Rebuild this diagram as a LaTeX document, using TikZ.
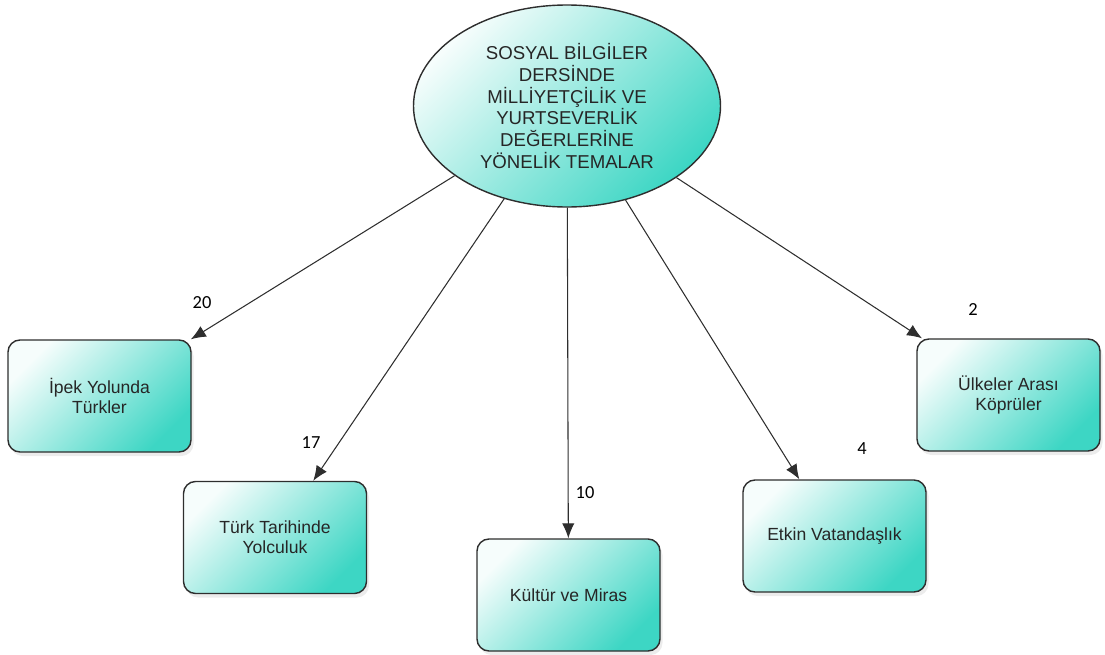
\documentclass[tikz,border=0pt]{standalone}
\usepackage{fontspec}
\setmainfont{Liberation Sans}
\newfontfamily\numfont{Carlito}
\usetikzlibrary{shapes.geometric,arrows.meta,shadows}

\definecolor{tealdark}{HTML}{3DD6C4}
\definecolor{tealmid}{HTML}{B2EEE7}
\definecolor{teallight}{HTML}{F6FDFC}
\definecolor{edgegray}{HTML}{2E2E2E}

\tikzset{
  themebox/.style={draw=edgegray, line width=0.8pt, rounded corners=0.24cm,
    minimum width=3.66cm, minimum height=2.24cm, align=center,
    top color=teallight, middle color=tealmid, bottom color=tealdark, shading angle=45,
    drop shadow={opacity=0.15, shadow xshift=0.05cm, shadow yshift=-0.08cm},
    font=\fontsize{10}{11.6}\selectfont, text=black!85},
  themelink/.style={draw=edgegray, line width=0.6pt, -{Latex[length=8.5pt,width=7pt]}},
  countlbl/.style={font=\numfont\fontsize{10.5}{12}\selectfont, text=black}
}

\begin{document}
\begin{tikzpicture}
  \useasboundingbox (0,0) rectangle (22.1,-13.1);

  %% main theme
  \node[ellipse, draw=edgegray, line width=0.8pt, minimum width=6.14cm, minimum height=4.04cm,
    inner sep=0pt, align=center, top color=teallight, middle color=tealmid, bottom color=tealdark,
    shading angle=45, font=\fontsize{10.6}{12.4}\selectfont, text=black!85] (main) at (11.34,-2.12)
    {SOSYAL BİLGİLER\\ DERSİNDE\\ MİLLİYETÇİLİK VE\\ YURTSEVERLİK\\ DEĞERLERİNE\\ YÖNELİK TEMALAR};

  %% sub themes
  \node[themebox] (ipek) at (1.99,-7.92) {İpek Yolunda\\ Türkler};
  \node[themebox] (tarih) at (5.50,-10.75) {Türk Tarihinde\\ Yolculuk};
  \node[themebox] (kultur) at (11.37,-11.90) {Kültür ve Miras};
  \node[themebox] (etkin) at (16.69,-10.72) {Etkin Vatandaşlık};
  \node[themebox] (ulke) at (20.17,-7.90) {Ülkeler Arası\\ Köprüler};

  %% links
  \draw[themelink] (main) -- (ipek);
  \draw[themelink] (main) -- (tarih);
  \draw[themelink] (main) -- (kultur);
  \draw[themelink] (main) -- (etkin);
  \draw[themelink] (main) -- (ulke);

  %% counts
  \node[countlbl] (n20) at (4.04,-6.06) {20};
  \node[countlbl] (n17) at (6.22,-8.86) {17};
  \node[countlbl] (n10) at (11.70,-9.86) {10};
  \node[countlbl] (n4) at (17.24,-8.98) {4};
  \node[countlbl] (n2) at (19.46,-6.20) {2};

\end{tikzpicture}
\end{document}
